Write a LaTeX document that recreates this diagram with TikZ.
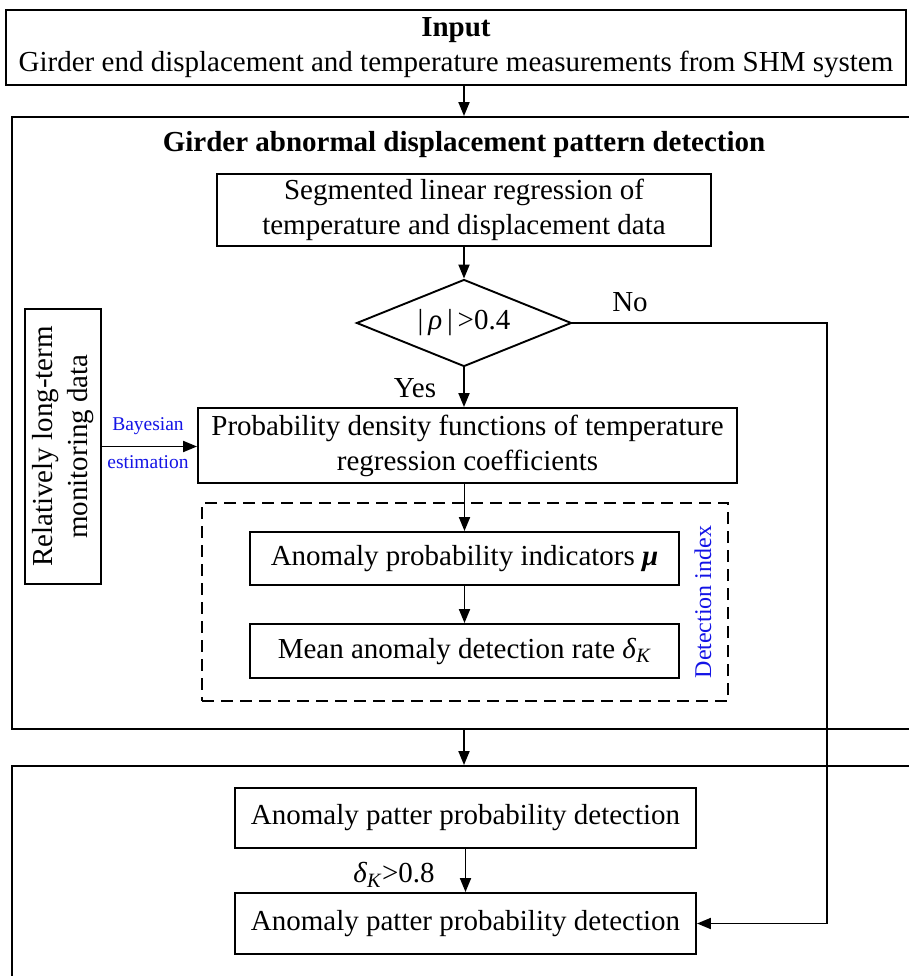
\documentclass[tikz,border=0pt]{standalone}
\usepackage{fontspec}
\setmainfont{Liberation Serif}
\usetikzlibrary{arrows.meta,shapes.geometric}
\newcommand\mainsz{\fontsize{29}{35}\selectfont}
\newcommand\smallsz{\fontsize{19.5}{22}\selectfont}
\definecolor{lblblue}{RGB}{20,20,230}
\tikzset{
  box/.style={draw, line width=1.9pt, align=center, inner sep=0pt, font=\mainsz},
  outer/.style={draw, line width=1.9pt, inner sep=0pt},
  arr/.style={line width=1.9pt, -{Triangle[length=14pt,width=11pt]}},
  conn/.style={line width=1.9pt},
  lbl/.style={font=\mainsz, inner sep=0pt},
  blue lbl/.style={font=\smallsz, text=lblblue, inner sep=0pt}
}
\begin{document}
\begin{tikzpicture}[x=1pt,y=-1pt]
\clip (0,0) rectangle (909,976);
\fill[white] (0,0) rectangle (909,976);
% outer boxes
\node[box, minimum width=900pt, minimum height=75pt] (input) at (456,47.5)
  {\textbf{Input}\\Girder end displacement and temperature measurements from SHM system};
\node[outer, minimum width=918pt, minimum height=612pt] (girder) at (471,423) {};
\node[lbl, font=\mainsz\bfseries] (title) at (464,145) {Girder abnormal displacement pattern detection};
\node[outer, minimum width=918pt, minimum height=240pt] (bottom) at (471,886) {};
% inner nodes
\node[box, minimum width=494pt, minimum height=72pt] (seg) at (464,210)
  {Segmented linear regression of\\temperature and displacement data};
\node[box, shape=diamond, aspect=2.47, minimum width=215pt, minimum height=87pt] (dia) at (464,323)
  {|\,\textit{ρ}\,|\,>0.4};
\node[lbl] (no) at (630,302) {No};
\node[lbl] (yes) at (415,388) {Yes};
\node[box, minimum width=539pt, minimum height=75pt] (prob) at (467.5,445.5)
  {Probability density functions of temperature\\regression coefficients};
\node[box, rotate=90, minimum width=275pt, minimum height=76pt] (longterm) at (63,446.5)
  {Relatively long-term\\monitoring data};
\node[blue lbl] (bay) at (148,426) {Bayesian};
\node[blue lbl] (est) at (148,462) {estimation};
\node[draw, dashed, dash pattern=on 12pt off 7pt, line width=1.9pt, minimum width=526pt, minimum height=198pt, inner sep=0pt] (dashbox) at (465,602) {};
\node[box, minimum width=429pt, minimum height=53pt] (anom) at (464.5,558.5)
  {Anomaly probability indicators \textbf{\textit{μ}}};
\node[box, minimum width=429pt, minimum height=54pt] (mean) at (464.5,651)
  {Mean anomaly detection rate \textit{δ}\textsubscript{\textit{K}}};
\node[blue lbl, font=\fontsize{24}{26}\selectfont, rotate=90] (detidx) at (703,602) {Detection index};
\node[box, minimum width=461pt, minimum height=60pt] (box1) at (465.5,818)
  {Anomaly patter probability detection};
\node[box, minimum width=461pt, minimum height=61pt] (box2) at (465.5,923.5)
  {Anomaly patter probability detection};
\node[lbl] (thr) at (394,875) {\textit{δ}\textsubscript{\textit{K}}>0.8};
\coordinate (turn1) at (827,323);
\coordinate (turn2) at (827,923.5);
\coordinate (a1) at (input.south -| seg.north);
\coordinate (a2) at (girder.south -| seg.south);
% connectors
\draw[arr] (a1) -- (a1 |- girder.north);
\draw[arr] (seg.south) -- (dia.north);
\draw[arr] (dia.south) -- (dia.south |- prob.north);
\draw[arr] (longterm.south) -- (longterm.south -| prob.west);
\draw[arr] (prob.south -| anom.north) -- (anom.north);
\draw[arr] (anom.south) -- (mean.north);
\draw[arr] (a2) -- (a2 |- bottom.north);
\draw[arr] (box1.south) -- (box2.north);
\draw[conn] (dia.east) -- (turn1) -- (turn2);
\draw[arr] (turn2) -- (box2.east);
\end{tikzpicture}
\end{document}
